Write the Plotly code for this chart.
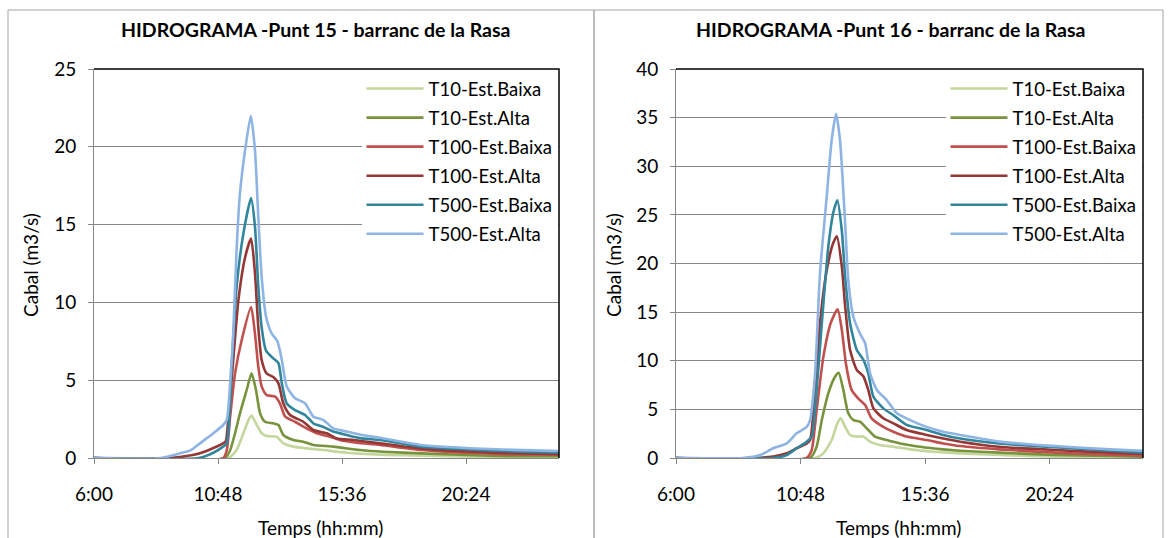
import pandas as pd
import plotly.graph_objects as go

# ---------------- DATA ----------------
SERIES_NAMES = ["T10-Est.Baixa", "T10-Est.Alta", "T100-Est.Baixa",
                "T100-Est.Alta", "T500-Est.Baixa", "T500-Est.Alta"]

# Punt 15 (time in decimal hours, discharge in m3/s)
P15_T10_BAIXA_T = [6.0, 11.2, 11.52, 11.78, 11.98, 12.1, 12.27, 12.49, 12.68, 13.07, 13.33, 13.72, 14.23, 14.88, 15.78, 17.07, 18.3, 21.6, 24.0]
P15_T10_BAIXA_V = [0, 0, 0.51, 1.59, 2.44, 2.73, 2.23, 1.59, 1.41, 1.37, 0.94, 0.73, 0.62, 0.51, 0.34, 0.22, 0.17, 0.05, 0.03]

P15_T10_ALTA_T = [6.0, 11.07, 11.27, 11.46, 11.65, 11.91, 12.1, 12.27, 12.43, 12.62, 12.94, 13.14, 13.33, 13.72, 14.1, 14.49, 15.26, 16.3, 17.2, 18.66, 21.6, 24.0]
P15_T10_ALTA_V = [0, 0, 0.5, 1.59, 2.87, 4.37, 5.45, 4.37, 2.87, 2.33, 2.23, 2.12, 1.48, 1.16, 1.05, 0.84, 0.73, 0.51, 0.4, 0.3, 0.13, 0.12]

P15_T100_BAIXA_T = [6.0, 11.0, 11.14, 11.27, 11.46, 11.72, 12.08, 12.23, 12.36, 12.49, 12.68, 13.01, 13.2, 13.4, 13.78, 14.23, 14.62, 15.14, 15.52, 16.17, 17.07, 18.66, 21.6, 24.0]
P15_T100_BAIXA_V = [0, 0, 0.5, 2.66, 5.44, 7.6, 9.7, 8.0, 5.87, 4.6, 4.05, 3.94, 3.5, 2.66, 2.33, 1.9, 1.59, 1.37, 1.16, 0.98, 0.84, 0.51, 0.26, 0.22]

P15_T100_ALTA_T = [6.0, 8.9, 9.33, 10.1, 10.62, 11.0, 11.1, 11.22, 11.39, 11.59, 11.85, 12.08, 12.23, 12.36, 12.49, 12.68, 12.94, 13.14, 13.33, 13.59, 14.1, 14.49, 15.01, 15.4, 16.04, 17.07, 18.66, 21.6, 24.0]
P15_T100_ALTA_V = [0, 0, 0.06, 0.3, 0.64, 0.94, 1.07, 3.0, 6.3, 10.15, 12.9, 14.1, 11.9, 8.4, 6.3, 5.44, 5.2, 4.8, 3.5, 2.76, 2.33, 1.8, 1.59, 1.26, 1.16, 0.94, 0.62, 0.34, 0.25]

P15_T500_BAIXA_T = [6.0, 10.07, 10.62, 11.0, 11.14, 11.33, 11.52, 11.78, 12.08, 12.23, 12.36, 12.49, 12.66, 12.94, 13.14, 13.27, 13.46, 13.78, 14.17, 14.49, 14.88, 15.26, 15.78, 16.36, 17.07, 18.66, 21.6, 24.0]
P15_T500_BAIXA_V = [0, 0, 0.34, 0.73, 0.94, 5.9, 11.0, 14.4, 16.7, 14.9, 11.0, 8.4, 6.9, 6.4, 6.1, 4.8, 3.5, 3.08, 2.76, 2.23, 2.0, 1.7, 1.48, 1.26, 1.16, 0.73, 0.47, 0.35]

P15_T500_ALTA_T = [6.0, 8.58, 9.33, 9.76, 10.1, 10.62, 11.0, 11.14, 11.27, 11.39, 11.52, 11.65, 11.85, 12.07, 12.23, 12.36, 12.49, 12.66, 12.88, 13.1, 13.27, 13.46, 13.78, 14.17, 14.49, 14.88, 15.26, 15.78, 16.36, 17.07, 18.66, 21.6, 24.0]
P15_T500_ALTA_V = [0, 0, 0.3, 0.51, 0.94, 1.59, 2.12, 2.44, 4.8, 8.0, 13.4, 17.0, 19.8, 22.0, 19.8, 15.5, 11.65, 9.08, 8.0, 7.5, 6.3, 4.6, 3.84, 3.52, 2.66, 2.44, 1.9, 1.7, 1.48, 1.3, 0.84, 0.56, 0.45]

# Punt 16
P16_T10_BAIXA_T = [6.0, 11.36, 11.68, 12.0, 12.22, 12.35, 12.52, 12.71, 12.97, 13.22, 13.48, 13.86, 14.38, 15.02, 15.92, 16.95, 18.45, 20.6, 22.73, 24.0]
P16_T10_BAIXA_V = [0, 0, 0.48, 1.85, 3.56, 4.08, 3.2, 2.37, 2.2, 2.2, 1.68, 1.34, 1.16, 0.89, 0.65, 0.48, 0.31, 0.14, 0.07, 0.05]

P16_T10_ALTA_T = [6.0, 11.17, 11.42, 11.62, 11.87, 12.13, 12.27, 12.45, 12.64, 12.84, 13.09, 13.35, 13.67, 14.12, 14.64, 15.41, 16.3, 16.95, 18.45, 20.6, 22.73, 24.0]
P16_T10_ALTA_V = [0, 0, 1.16, 3.9, 6.65, 8.36, 8.77, 7.0, 4.6, 3.9, 3.73, 3.05, 2.2, 1.85, 1.5, 1.16, 0.89, 0.75, 0.55, 0.31, 0.2, 0.14]

P16_T100_BAIXA_T = [6.0, 11.04, 11.23, 11.42, 11.68, 11.96, 12.23, 12.39, 12.55, 12.77, 13.03, 13.29, 13.54, 13.99, 14.38, 14.89, 15.66, 16.3, 16.95, 18.45, 20.6, 22.73, 24.0]
P16_T100_BAIXA_V = [0, 0, 0.82, 4.9, 10.4, 13.85, 15.3, 13.2, 9.7, 7.0, 6.1, 5.45, 4.08, 3.2, 2.7, 2.2, 1.85, 1.5, 1.23, 0.89, 0.55, 0.34, 0.24]

P16_T100_ALTA_T = [6.0, 9.0, 9.75, 10.27, 10.65, 11.04, 11.17, 11.36, 11.55, 11.81, 12.06, 12.2, 12.39, 12.52, 12.71, 12.97, 13.22, 13.41, 13.61, 13.99, 14.38, 14.89, 15.66, 16.3, 16.95, 18.45, 20.6, 22.73, 24.0]
P16_T100_ALTA_V = [0, 0, 0.14, 0.48, 1.0, 1.5, 1.85, 7.0, 13.85, 19.3, 22.1, 22.8, 19.7, 15.6, 11.1, 9.05, 8.4, 7.0, 5.1, 4.08, 3.56, 2.88, 2.37, 2.0, 1.68, 1.16, 0.82, 0.55, 0.41]

P16_T500_BAIXA_T = [6.0, 9.75, 10.27, 10.65, 11.04, 11.23, 11.42, 11.62, 11.87, 12.06, 12.22, 12.39, 12.52, 12.71, 12.97, 13.22, 13.41, 13.61, 13.99, 14.38, 14.89, 15.66, 16.3, 16.95, 18.45, 20.6, 22.73, 24.0]
P16_T500_BAIXA_V = [0, 0, 0.31, 1.0, 1.68, 2.2, 7.0, 13.85, 21.7, 25.2, 26.5, 23.4, 18.6, 13.85, 11.1, 10.1, 8.7, 6.3, 5.1, 4.4, 3.4, 2.88, 2.37, 2.0, 1.5, 1.1, 0.75, 0.55]

P16_T500_ALTA_T = [6.0, 8.59, 9.24, 9.75, 10.27, 10.65, 11.04, 11.17, 11.36, 11.55, 11.81, 12.0, 12.17, 12.32, 12.52, 12.64, 12.84, 13.09, 13.29, 13.48, 13.74, 14.12, 14.51, 15.02, 15.66, 16.3, 16.95, 18.45, 20.6, 22.73, 24.0]
P16_T500_ALTA_V = [0, 0, 0.3, 1.0, 1.5, 2.54, 3.2, 3.9, 8.7, 19.0, 26.9, 32.7, 35.4, 32.7, 24.1, 18.3, 14.5, 12.8, 11.8, 8.7, 7.0, 5.96, 4.6, 3.9, 3.2, 2.7, 2.37, 1.68, 1.23, 0.89, 0.75]

X_TICK_LABELS = ["6:00", "10:48", "15:36", "20:24"]
X_TICK_HOURS = [6.0, 10.8, 15.6, 20.4]
X_RANGE_HOURS = [6.0, 24.0]
Y_TICKS_P15 = [0, 5, 10, 15, 20, 25]
Y_TICKS_P16 = [0, 5, 10, 15, 20, 25, 30, 35, 40]

TITLES = ["HIDROGRAMA -Punt 15 - barranc de la Rasa",
          "HIDROGRAMA -Punt 16 - barranc de la Rasa"]
Y_TITLE = "Cabal (m3/s)"
X_TITLE = "Temps (hh:mm)"

# ---------------- STYLE ----------------
COLORS = ["#C3D69B", "#77933C", "#C0504D", "#953735", "#31859C", "#8EB4E3"]
FONT = "Lato"
FS = 19
LEG_FS = 18.5
W, H = 1173, 538
BASE = pd.Timestamp("2024-01-01")


def to_dt(hours):
    return [(BASE + pd.Timedelta(hours=h)).strftime("%Y-%m-%d %H:%M:%S") for h in hours]


P15 = [(P15_T10_BAIXA_T, P15_T10_BAIXA_V), (P15_T10_ALTA_T, P15_T10_ALTA_V),
       (P15_T100_BAIXA_T, P15_T100_BAIXA_V), (P15_T100_ALTA_T, P15_T100_ALTA_V),
       (P15_T500_BAIXA_T, P15_T500_BAIXA_V), (P15_T500_ALTA_T, P15_T500_ALTA_V)]
P16 = [(P16_T10_BAIXA_T, P16_T10_BAIXA_V), (P16_T10_ALTA_T, P16_T10_ALTA_V),
       (P16_T100_BAIXA_T, P16_T100_BAIXA_V), (P16_T100_ALTA_T, P16_T100_ALTA_V),
       (P16_T500_BAIXA_T, P16_T500_BAIXA_V), (P16_T500_ALTA_T, P16_T500_ALTA_V)]

fig = go.Figure()

for panel, (data, xa, ya, leg) in enumerate([(P15, "x", "y", "legend"), (P16, "x2", "y2", "legend2")]):
    for i, (t, v) in enumerate(data):
        fig.add_trace(go.Scatter(
            x=to_dt(t), y=v, mode="lines", name=SERIES_NAMES[i],
            line=dict(color=COLORS[i], width=2.6, shape="spline", smoothing=0.6),
            xaxis=xa, yaxis=ya, legend=leg, legendgroup=f"g{panel}{i}",
            hoverinfo="skip"))


def px_x(p):
    return p / W


def px_y(p):
    return 1 - p / H


grid = "#868686"
common_x = dict(
    type="date", range=to_dt(X_RANGE_HOURS), tickvals=to_dt(X_TICK_HOURS), ticktext=X_TICK_LABELS,
    showgrid=False, showline=True, linecolor=grid, linewidth=1, ticks="outside", ticklen=5,
    tickcolor=grid, tickfont=dict(family=FONT, size=FS, color="black"), zeroline=False,
    ticklabelstandoff=14, automargin=False, fixedrange=True)
common_y = dict(
    showgrid=True, gridcolor=grid, gridwidth=1.4, showline=True, linecolor=grid, linewidth=1,
    ticks="outside", ticklen=5, tickcolor=grid, tickfont=dict(family=FONT, size=FS, color="black"),
    ticklabelstandoff=8, zeroline=False, automargin=False, fixedrange=True)

legend_common = dict(yanchor="top", bgcolor="white",
                     font=dict(family=FONT, size=LEG_FS, color="black"), tracegroupgap=2,
                     traceorder="grouped", itemwidth=57)

fig.update_layout(
    template="none",
    width=W, height=H, autosize=False,
    margin=dict(l=0, r=0, t=0, b=0, pad=0, autoexpand=False),
    paper_bgcolor="white", plot_bgcolor="white",
    xaxis=dict(common_x, domain=[px_x(94), px_x(559)], anchor="y"),
    yaxis=dict(common_y, domain=[px_y(458), px_y(69)], range=[0, 25], tickvals=Y_TICKS_P15, anchor="x"),
    xaxis2=dict(common_x, domain=[px_x(676), px_x(1143)], anchor="y2"),
    yaxis2=dict(common_y, domain=[px_y(458), px_y(69)], range=[0, 40], tickvals=Y_TICKS_P16, anchor="x2"),
    legend=dict(legend_common, x=px_x(557.5), xanchor="right", y=px_y(70)),
    legend2=dict(legend_common, x=px_x(1141.5), xanchor="right", y=px_y(70)),
    showlegend=True,
)

shapes = []
# outer chart borders
for x0, x1 in [(8, 594), (594, 1163)]:
    shapes.append(dict(type="rect", xref="paper", yref="paper", x0=px_x(x0), x1=px_x(x1),
                       y0=-0.05, y1=px_y(10), line=dict(color="#A6A6A6", width=1), layer="below"))
# plot area frame: top and right edges in black
for xr, yr in [("x", "y"), ("x2", "y2")]:
    shapes.append(dict(type="path", xref=f"{xr} domain", yref=f"{yr} domain",
                       path="M 0 1 L 1 1 L 1 0", line=dict(color="black", width=1.5), layer="above"))
fig.update_layout(shapes=shapes)

ann = []
for cx, title in [(315, TITLES[0]), (890, TITLES[1])]:
    ann.append(dict(text=f"<b>{title}</b>", x=px_x(cx), y=px_y(30), xref="paper", yref="paper",
                    xanchor="center", yanchor="middle",
                    showarrow=False, font=dict(family=FONT, size=19.5, color="black")))
for cx in [30, 613]:
    ann.append(dict(text=Y_TITLE, x=px_x(cx), y=px_y(265), xref="paper", yref="paper", textangle=-90,
                    xanchor="center", yanchor="middle",
                    showarrow=False, font=dict(family=FONT, size=FS, color="black")))
for cx in [320, 898]:
    ann.append(dict(text=X_TITLE, x=px_x(cx), y=px_y(527), xref="paper", yref="paper",
                    xanchor="center", yanchor="middle",
                    showarrow=False, font=dict(family=FONT, size=FS, color="black")))
fig.update_layout(annotations=ann)

fig.write_html("out.html")
